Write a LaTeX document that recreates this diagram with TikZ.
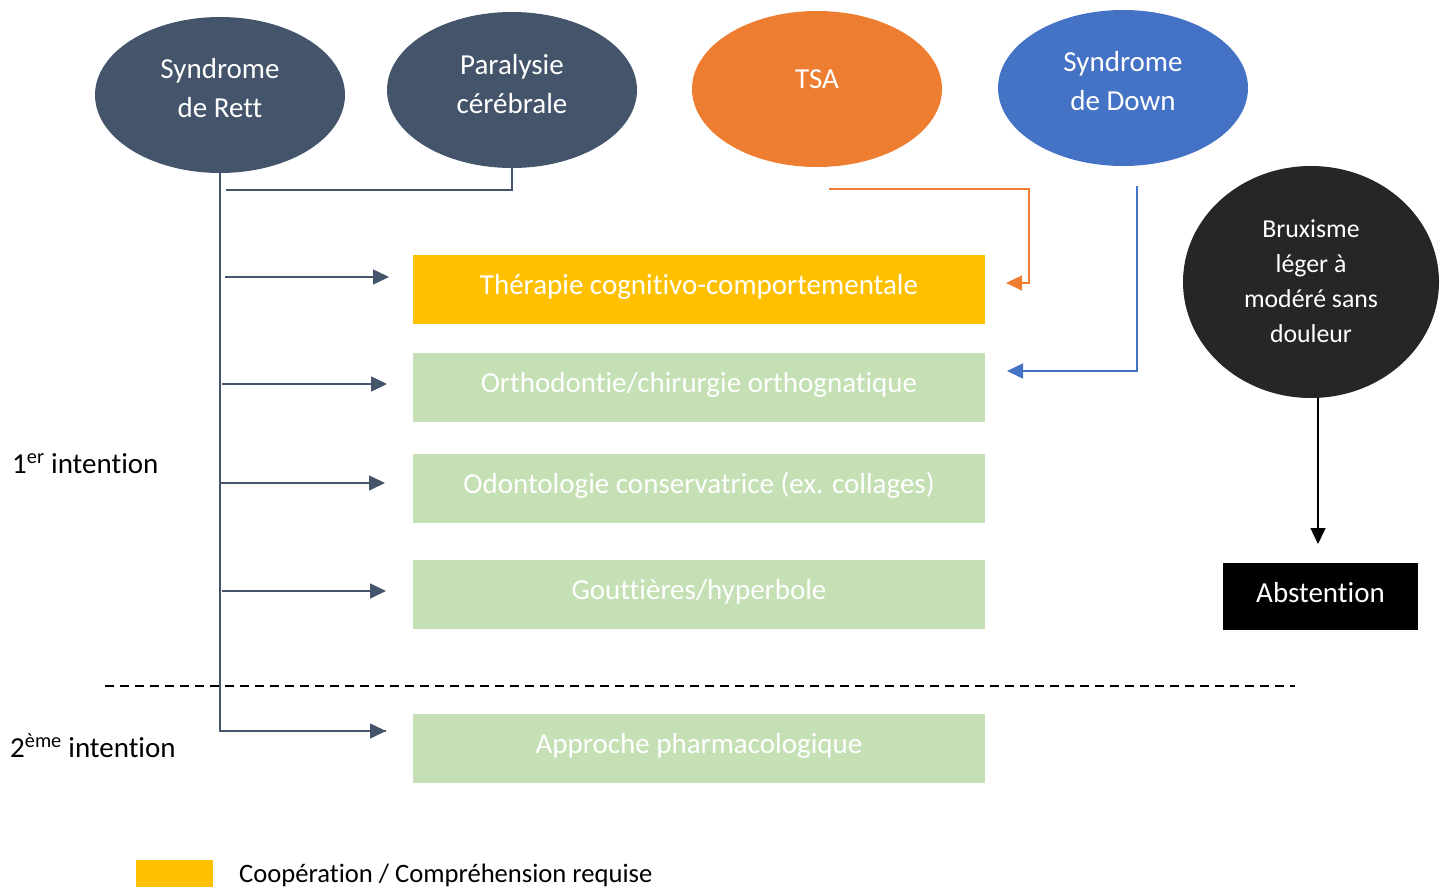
\documentclass[tikz,border=0pt]{standalone}
\usepackage{fontspec}
\setmainfont{Carlito}[Ligatures=NoCommon]
\usetikzlibrary{shapes.geometric,arrows.meta}
\definecolor{slate}{HTML}{44546A}
\definecolor{orng}{HTML}{ED7D31}
\definecolor{blu}{HTML}{4472C4}
\definecolor{gold}{HTML}{FFC000}
\definecolor{lgreen}{HTML}{C5E0B4}
\definecolor{dark}{HTML}{262626}
\begin{document}
\begin{tikzpicture}[x=1pt,y=-1pt,
  ell/.style={ellipse,minimum width=250pt,minimum height=156pt,inner sep=0pt},
  etext/.style={inner sep=0pt,text=white,align=center,font=\fontsize{29}{39}\selectfont},
  box/.style={rectangle,minimum width=572pt,minimum height=69pt,inner sep=0pt},
  btext/.style={inner sep=0pt,text=white,font=\fontsize{29}{35}\selectfont},
  conn/.style={draw=slate,line width=1.5pt},
  arr/.style={conn,-{Triangle[length=16pt,width=15pt]}},
  lbl/.style={anchor=base west,inner sep=0pt,font=\fontsize{29}{35}\selectfont}
]
\useasboundingbox (0,0) rectangle (1448,886);

% top ellipses
\node[ell,fill=slate] (rett) at (220,95) {};
\node[etext] (rettT) at ([yshift=7pt]rett.center) {Syndrome\\de Rett};
\node[ell,fill=slate] (para) at (512,90) {};
\node[etext] (paraT) at ([yshift=6pt]para.center) {Paralysie\\cérébrale};
\node[ell,fill=orng] (tsa) at (817,89) {};
\node[etext] (tsaT) at ([yshift=10pt]tsa.center) {TSA};
\node[ell,fill=blu] (down) at (1123,88) {};
\node[etext] (downT) at ([yshift=7pt]down.center) {Syndrome\\de Down};
\node[ellipse,minimum width=256pt,minimum height=232pt,inner sep=0pt,fill=dark] (brux) at (1311,282) {};
\node[etext,font=\fontsize{25.8}{35}\selectfont] (bruxT) at ([yshift=1pt]brux.center) {Bruxisme\\léger à\\modéré sans\\douleur};

% boxes
\node[box,fill=gold] (tcc) at (699,289.5) {};
\node[btext] (tccT) at ([yshift=3pt]tcc.center) {Thérapie cognitivo-comportementale};
\node[box,fill=lgreen] (ortho) at (699,387.5) {};
\node[btext] (orthoT) at ([yshift=3pt]ortho.center) {Orthodontie/chirurgie orthognatique};
\node[box,fill=lgreen] (odonto) at (699,488.5) {};
\node[btext] (odontoT) at ([yshift=3pt]odonto.center) {Odontologie conservatrice (ex. collages)};
\node[box,fill=lgreen] (gout) at (699,594.5) {};
\node[btext] (goutT) at ([yshift=3pt]gout.center) {Gouttières/hyperbole};
\node[box,fill=lgreen] (pharma) at (699,748.5) {};
\node[btext] (pharmaT) at ([yshift=3pt]pharma.center) {Approche pharmacologique};
\node[rectangle,minimum width=195pt,minimum height=67pt,inner sep=0pt,fill=black] (abst) at (1320.5,596.5) {};
\node[btext] (abstT) at ([yshift=4pt]abst.center) {Abstention};

% labels
\node[lbl] (l1) at (12,473) {1\textsuperscript{er} intention};
\node[lbl] (l2) at (10,757) {2\textsuperscript{ème} intention};

% legend
\node[rectangle,fill=gold,minimum width=77pt,minimum height=30pt,inner sep=0pt,anchor=north west] (sw) at (136,860) {};
\node[anchor=base west,inner sep=0pt,font=\fontsize{26.6}{30}\selectfont] (legt) at (239,882) {Coopération / Compréhension requise};

% dashed separator
\coordinate (dsA) at (105,686);
\coordinate (dsB) at (1295,686);
\draw[line width=1.5pt,dash pattern=on 9pt off 6pt] (dsA) -- (dsB);

% slate connectors
\coordinate (j1) at (226,190);
\coordinate (e5) at (386,731);
\draw[conn] (rett.south) |- (e5);
\draw[arr] (rett.south |- e5) -- (e5);
\draw[conn] (para.south) |- (j1);
\coordinate (s1) at (225,277); \coordinate (e1) at (389,277);
\coordinate (s2) at (222,384); \coordinate (e2) at (387,384);
\coordinate (s3) at (220,483); \coordinate (e3) at (385,483);
\coordinate (s4) at (222,591); \coordinate (e4) at (386,591);
\draw[arr] (s1) -- (e1);
\draw[arr] (s2) -- (e2);
\draw[arr] (s3) -- (e3);
\draw[arr] (s4) -- (e4);

% orange connector
\coordinate (o1) at (829,189);
\coordinate (o2) at (1029,283);
\coordinate (o3) at (1006,283);
\draw[draw=orng,line width=1.5pt,-{Triangle[length=16pt,width=15pt]}] (o1) -| (o2) -- (o3);

% blue connector
\coordinate (d1) at (1137,186);
\coordinate (d3) at (1007,371);
\draw[draw=blu,line width=1.5pt,-{Triangle[length=16pt,width=15pt]}] (d1) |- (d3);

% black connector
\coordinate (k1) at (1318,398);
\coordinate (k2) at (1318,544);
\draw[line width=1.5pt,-{Triangle[length=16pt,width=15pt]}] (k1) -- (k2);
\end{tikzpicture}
\end{document}
